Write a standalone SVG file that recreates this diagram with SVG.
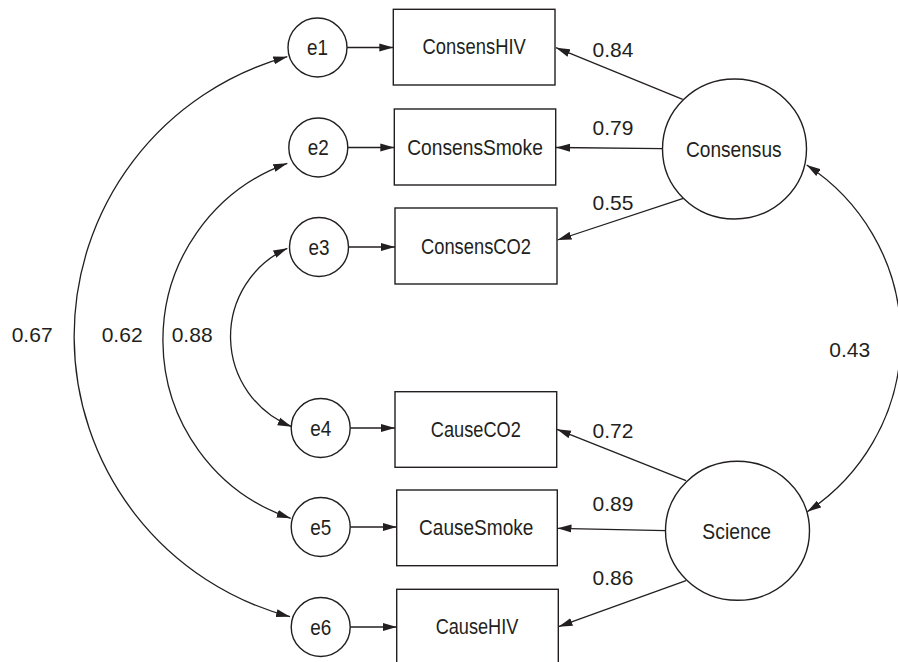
<svg xmlns="http://www.w3.org/2000/svg" width="898" height="662" viewBox="0 0 898 662">
<defs>
<marker id="arr" markerUnits="userSpaceOnUse" markerWidth="15" markerHeight="9" refX="14" refY="4.5" orient="auto-start-reverse" viewBox="0 0 15 9">
<path d="M0,0.5 L14,4.5 L0,8.5 z" fill="#231f20"/>
</marker>
<style>
.shape{fill:#fff;stroke:#231f20;stroke-width:1.4}
.ln{fill:none;stroke:#231f20;stroke-width:1.3;marker-end:url(#arr)}
.bi{fill:none;stroke:#231f20;stroke-width:1.3;marker-start:url(#arr);marker-end:url(#arr)}
text{font-family:"Liberation Sans",Arial,sans-serif;font-size:21px;fill:#231f20}
.c{text-anchor:middle;font-size:22.5px}
</style>
</defs>
<rect width="898" height="662" fill="#fff"/>
<g id="connectors">
<line class="ln" x1="347" y1="47.5" x2="393.3" y2="47.5"/>
<line class="ln" x1="347.8" y1="147.5" x2="394.3" y2="147.5"/>
<line class="ln" x1="348.5" y1="247" x2="395" y2="247"/>
<line class="ln" x1="350.2" y1="428" x2="395" y2="428"/>
<line class="ln" x1="350.2" y1="527" x2="396.7" y2="527"/>
<line class="ln" x1="350.2" y1="627" x2="396.7" y2="627"/>
<line class="ln" x1="682.7" y1="99.3" x2="556" y2="47.7"/>
<line class="ln" x1="662.5" y1="148.7" x2="556" y2="147.5"/>
<line class="ln" x1="683.3" y1="198.3" x2="557.5" y2="240"/>
<line class="ln" x1="686" y1="480.7" x2="557" y2="429.3"/>
<line class="ln" x1="665.7" y1="530.7" x2="557.5" y2="528.3"/>
<line class="ln" x1="686" y1="580.7" x2="558.5" y2="626.7"/>
<path class="bi" d="M287.3,56.7 A290,290 0 0 0 290,616.7"/>
<path class="bi" d="M287.3,163.3 A188,188 0 0 0 290.7,518.3"/>
<path class="bi" d="M287.3,248.3 A97,97 0 0 0 291.7,426.7"/>
<path class="bi" d="M806.7,165 A207,207 0 0 1 807.3,511.7"/>
<text x="11.7" y="342">0.67</text>
<text x="101.7" y="342">0.62</text>
<text x="171.7" y="342">0.88</text>
<text x="829.3" y="357">0.43</text>
<text x="592.5" y="56.7">0.84</text>
<text x="592.5" y="135">0.79</text>
<text x="592.5" y="210">0.55</text>
<text x="592.5" y="438.3">0.72</text>
<text x="592.5" y="510.5">0.89</text>
<text x="592.5" y="585">0.86</text>
</g>
<g id="e1"><circle class="shape" cx="317.5" cy="47.5" r="29.5"/><text class="c" x="317.5" y="55" textLength="21" lengthAdjust="spacingAndGlyphs">e1</text></g>
<g id="e2"><circle class="shape" cx="318.3" cy="147.5" r="29.5"/><text class="c" x="318.3" y="155" textLength="21" lengthAdjust="spacingAndGlyphs">e2</text></g>
<g id="e3"><circle class="shape" cx="319" cy="247" r="29.5"/><text class="c" x="319" y="254.5" textLength="21" lengthAdjust="spacingAndGlyphs">e3</text></g>
<g id="e4"><circle class="shape" cx="320.7" cy="428" r="29.5"/><text class="c" x="320.7" y="435.5" textLength="21" lengthAdjust="spacingAndGlyphs">e4</text></g>
<g id="e5"><circle class="shape" cx="320.7" cy="527" r="29.5"/><text class="c" x="320.7" y="534.5" textLength="21" lengthAdjust="spacingAndGlyphs">e5</text></g>
<g id="e6"><circle class="shape" cx="320.7" cy="627" r="29.5"/><text class="c" x="320.7" y="634.5" textLength="21" lengthAdjust="spacingAndGlyphs">e6</text></g>
<g id="ConsensHIV"><rect class="shape" x="393.3" y="9.3" width="161.7" height="75.7"/><text class="c" x="474.2" y="54" textLength="103.3" lengthAdjust="spacingAndGlyphs">ConsensHIV</text></g>
<g id="ConsensSmoke"><rect class="shape" x="394.3" y="109" width="161.4" height="76"/><text class="c" x="475" y="154.5" textLength="135.7" lengthAdjust="spacingAndGlyphs">ConsensSmoke</text></g>
<g id="ConsensCO2"><rect class="shape" x="395" y="208" width="162" height="76"/><text class="c" x="476" y="253.5" textLength="110" lengthAdjust="spacingAndGlyphs">ConsensCO2</text></g>
<g id="CauseCO2"><rect class="shape" x="395" y="391.7" width="161.7" height="75.6"/><text class="c" x="475.8" y="436.5" textLength="90" lengthAdjust="spacingAndGlyphs">CauseCO2</text></g>
<g id="CauseSmoke"><rect class="shape" x="396.7" y="490" width="160.6" height="75.7"/><text class="c" x="476.2" y="535" textLength="114.3" lengthAdjust="spacingAndGlyphs">CauseSmoke</text></g>
<g id="CauseHIV"><rect class="shape" x="396.7" y="589.3" width="161.6" height="76"/><text class="c" x="477" y="634" textLength="82.7" lengthAdjust="spacingAndGlyphs">CauseHIV</text></g>
<g id="Consensus"><ellipse class="shape" cx="734.5" cy="149" rx="72" ry="70"/><text class="c" x="733.8" y="156.5" textLength="95.7" lengthAdjust="spacingAndGlyphs">Consensus</text></g>
<g id="Science"><ellipse class="shape" cx="737.5" cy="530.8" rx="72" ry="69.5"/><text class="c" x="736.7" y="539" textLength="68.7" lengthAdjust="spacingAndGlyphs">Science</text></g>
</svg>
